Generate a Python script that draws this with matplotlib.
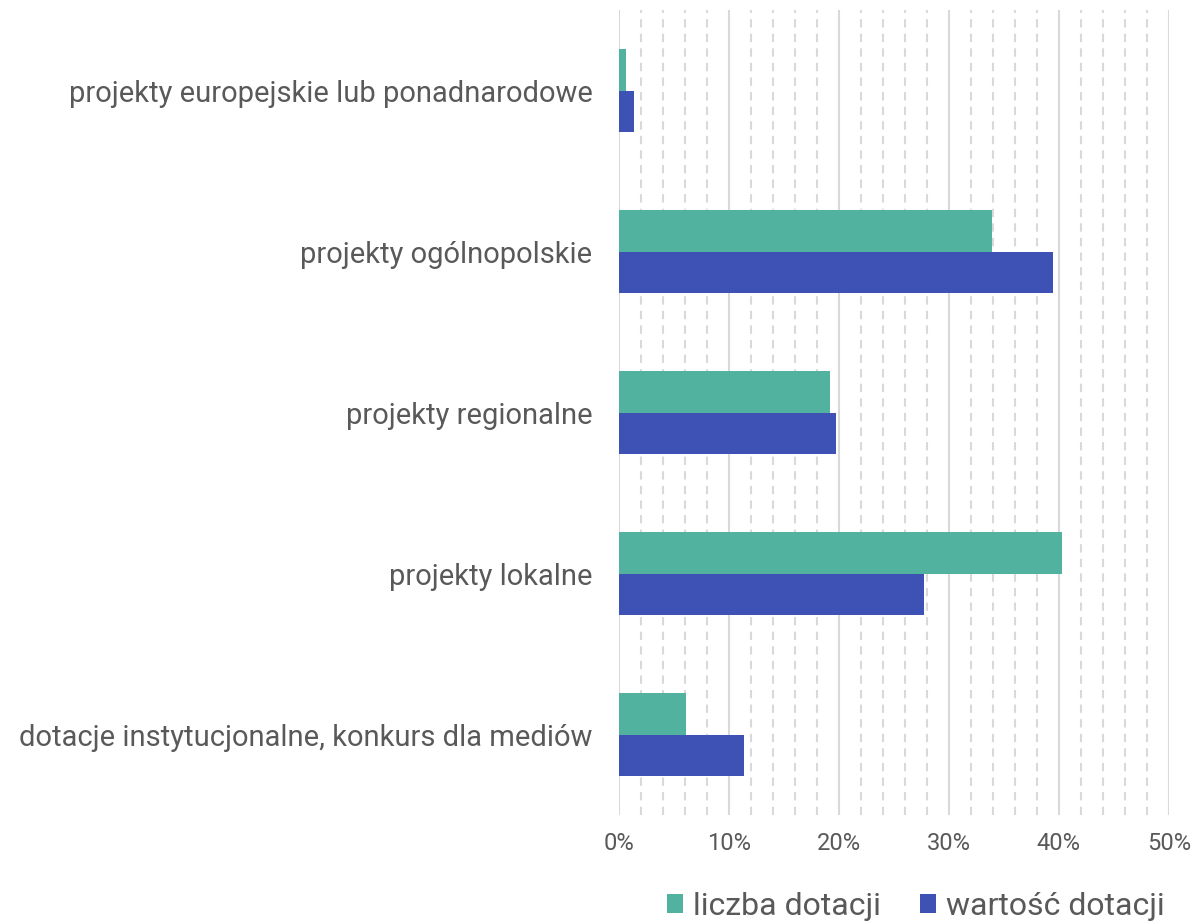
import matplotlib
matplotlib.use("Agg")
import matplotlib.pyplot as plt
from matplotlib.ticker import MultipleLocator, FuncFormatter
import numpy as np

plt.rcParams["font.family"] = ["Roboto", "DejaVu Sans"]

# Categories, bottom to top (as drawn).
categories = [
    "dotacje instytucjonalne, konkurs dla mediów",
    "projekty lokalne",
    "projekty regionalne",
    "projekty ogólnopolskie",
    "projekty europejskie lub ponadnarodowe",
]
liczba = [6.1, 40.3, 19.2, 33.9, 0.6]
wartosc = [11.4, 27.7, 19.7, 39.5, 1.4]
series_names = ["liczba dotacji", "wartość dotacji"]

COLOR_LICZBA = "#52B2A0"
COLOR_WARTOSC = "#3E51B5"
TEXT = "#595959"
GRID = "#D9D9D9"

fig = plt.figure(figsize=(11.94, 9.21), dpi=100)
ax = fig.add_axes([0.5184, 0.115, 0.4606, 0.874])

y = np.arange(len(categories))
h = 0.26
ax.barh(y + h / 2, liczba, h, color=COLOR_LICZBA, label=series_names[0], zorder=3)
ax.barh(y - h / 2, wartosc, h, color=COLOR_WARTOSC, label=series_names[1], zorder=3)

ax.set_xlim(0, 50)
ax.set_ylim(-0.5, len(categories) - 0.5)
ax.xaxis.set_major_locator(MultipleLocator(10))
ax.xaxis.set_minor_locator(MultipleLocator(2))
ax.xaxis.set_major_formatter(FuncFormatter(lambda v, _: f"{v:.0f}%"))
ax.grid(axis="x", which="major", color=GRID, linewidth=1.5, zorder=0)
ax.grid(axis="x", which="minor", color=GRID, linewidth=1.5, linestyle=(0, (4, 3)), zorder=0)
ax.set_axisbelow(True)

ax.set_yticks(y)
ax.set_yticklabels(categories)
ax.tick_params(axis="y", length=0, pad=19, labelsize=21, labelcolor=TEXT)
ax.tick_params(axis="x", which="both", length=0, pad=12, labelsize=17, labelcolor=TEXT)
for s in ax.spines.values():
    s.set_visible(False)

leg = fig.legend(
    loc="center", bbox_to_anchor=(0.767, 0.016), ncol=2, frameon=False,
    fontsize=23, handlelength=0.5, handleheight=0.5, handletextpad=0.3,
    columnspacing=1.25,
)
for t in leg.get_texts():
    t.set_color(TEXT)

plt.savefig("out.png", dpi=100)
